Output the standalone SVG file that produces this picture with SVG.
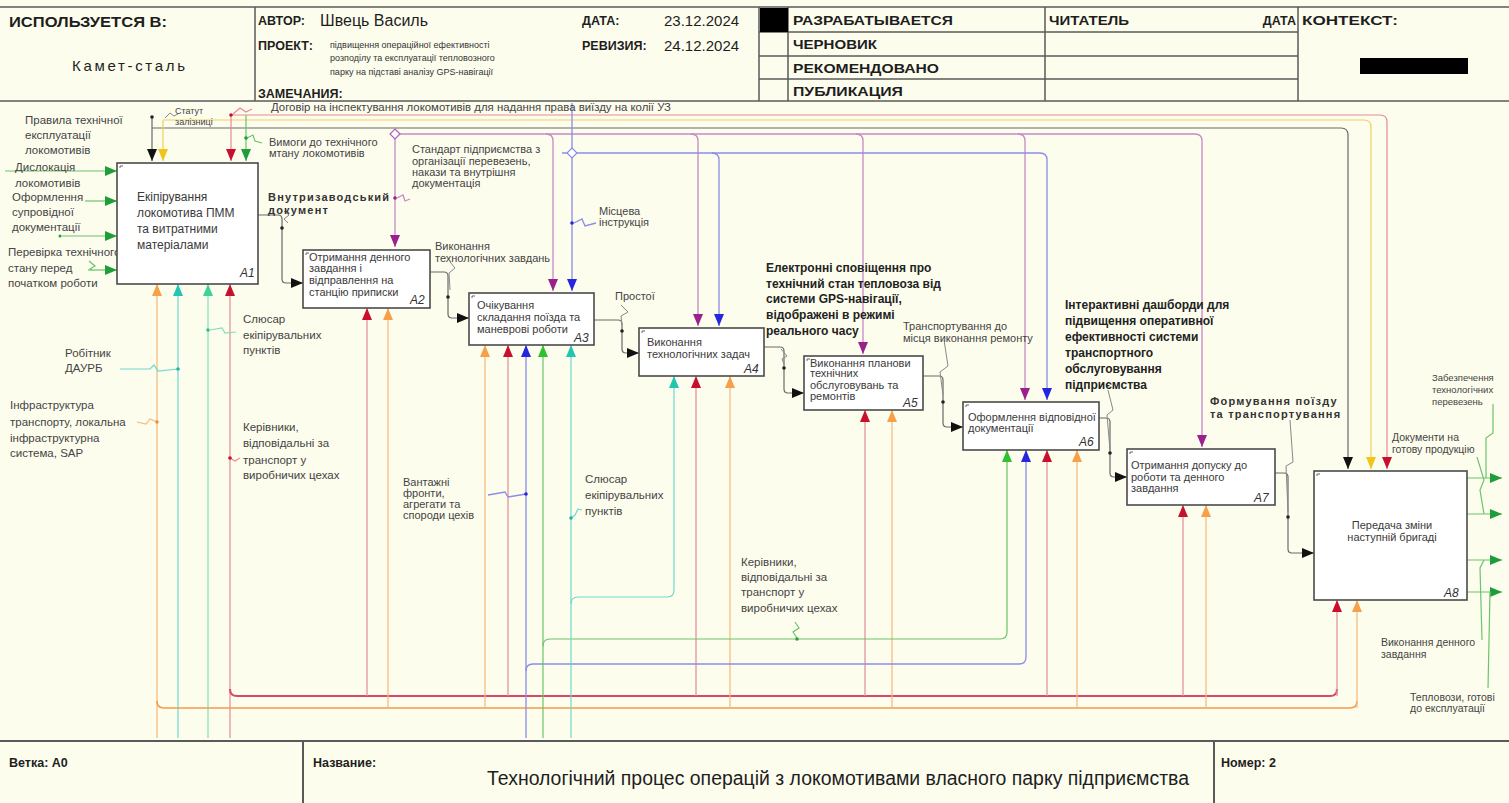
<svg xmlns="http://www.w3.org/2000/svg" width="1509" height="803" viewBox="0 0 1509 803">
<style>
.frame{fill:none;stroke:#5a5a5a;stroke-width:1.5}
.box{fill:#fff;stroke:#4a4a4a;stroke-width:1.6}
.tick{fill:none;stroke:#666;stroke-width:1}
.h{font-family:"Liberation Sans",Arial,sans-serif;font-size:13px;fill:#1e1e1e}
.hb{font-family:"Liberation Sans",Arial,sans-serif;font-size:12.5px;font-weight:bold;fill:#1e1e1e}
.hs{font-family:"Liberation Sans",Arial,sans-serif;font-size:9px;fill:#333}
.bt{font-family:"Liberation Sans",Arial,sans-serif;font-size:11px;fill:#3a3a3a}
.bt1{font-family:"Liberation Sans",Arial,sans-serif;font-size:12px;fill:#3a3a3a}
.num{font-family:"Liberation Sans",Arial,sans-serif;font-size:12px;fill:#333;font-style:italic}
.lb{font-family:"Liberation Sans",Arial,sans-serif;font-size:11.5px;fill:#444}
.s95{font-size:11px}
.s9{font-size:10.5px}
.s8{font-size:9px}
.lb11{font-family:"Liberation Sans",Arial,sans-serif;font-size:11.5px;fill:#444}
.bold{font-family:"Liberation Sans",Arial,sans-serif;font-size:12px;font-weight:bold;fill:#222}
.bsp{font-family:"Liberation Sans",Arial,sans-serif;font-size:11px;font-weight:bold;fill:#333;letter-spacing:1.2px}
.lk,.ly,.lr,.lrb,.lg,.lm,.lbl,.lo,.lob,.lc,.lt,.sq{fill:none}
.lk{stroke:#6a6a6a;stroke-width:1.2}
.ly{stroke:#f0d060;stroke-width:1.2}
.lr{stroke:#e38b93;stroke-width:1.2}
.lrb{stroke:#d9486a;stroke-width:2}
.lg{stroke:#6cc46c;stroke-width:1.2}
.lm{stroke:#c58ac8;stroke-width:1.3}
.lbl{stroke:#8c8cea;stroke-width:1.3}
.lo{stroke:#f5b87a;stroke-width:1.2}
.lob{stroke:#f39a4a;stroke-width:1.6}
.lc{stroke:#70d8cc;stroke-width:1.2}
.lt{stroke:#80e0b8;stroke-width:1.2}
.sq{stroke:#888;stroke-width:1}
</style>
<defs>
<marker id="ak" viewBox="0 0 12 10" refX="12" refY="5" markerWidth="12" markerHeight="10" markerUnits="userSpaceOnUse" orient="auto"><path d="M0,0 L12,5 L0,10 Z" fill="#111"/></marker>
<marker id="ay" viewBox="0 0 12 10" refX="12" refY="5" markerWidth="12" markerHeight="10" markerUnits="userSpaceOnUse" orient="auto"><path d="M0,0 L12,5 L0,10 Z" fill="#f0c419"/></marker>
<marker id="ar" viewBox="0 0 12 10" refX="12" refY="5" markerWidth="12" markerHeight="10" markerUnits="userSpaceOnUse" orient="auto"><path d="M0,0 L12,5 L0,10 Z" fill="#c8102e"/></marker>
<marker id="ag" viewBox="0 0 12 10" refX="12" refY="5" markerWidth="12" markerHeight="10" markerUnits="userSpaceOnUse" orient="auto"><path d="M0,0 L12,5 L0,10 Z" fill="#1e9e3a"/></marker>
<marker id="agl" viewBox="0 0 12 10" refX="12" refY="5" markerWidth="12" markerHeight="10" markerUnits="userSpaceOnUse" orient="auto"><path d="M0,0 L12,5 L0,10 Z" fill="#30c030"/></marker>
<marker id="am" viewBox="0 0 12 10" refX="12" refY="5" markerWidth="12" markerHeight="10" markerUnits="userSpaceOnUse" orient="auto"><path d="M0,0 L12,5 L0,10 Z" fill="#9c1f8e"/></marker>
<marker id="ab" viewBox="0 0 12 10" refX="12" refY="5" markerWidth="12" markerHeight="10" markerUnits="userSpaceOnUse" orient="auto"><path d="M0,0 L12,5 L0,10 Z" fill="#2626e0"/></marker>
<marker id="ao" viewBox="0 0 12 10" refX="12" refY="5" markerWidth="12" markerHeight="10" markerUnits="userSpaceOnUse" orient="auto"><path d="M0,0 L12,5 L0,10 Z" fill="#f7a04a"/></marker>
<marker id="ac" viewBox="0 0 12 10" refX="12" refY="5" markerWidth="12" markerHeight="10" markerUnits="userSpaceOnUse" orient="auto"><path d="M0,0 L12,5 L0,10 Z" fill="#22c6b0"/></marker>
<marker id="at" viewBox="0 0 12 10" refX="12" refY="5" markerWidth="12" markerHeight="10" markerUnits="userSpaceOnUse" orient="auto"><path d="M0,0 L12,5 L0,10 Z" fill="#3ad39a"/></marker>
</defs>
<rect x="0" y="0" width="1509" height="803" fill="#fdfdee"/>

<g id="header">
<path class="frame" d="M0,7 H1509 M0,101 H1509 M255,7 V101 M759,7 V101 M788,7 V101 M1045,7 V101 M1298,7 V101 M759,32 H1298 M759,56 H1298 M759,79 H1298"/>
<rect x="760" y="8" width="28" height="24" fill="#000"/>
<rect x="1360" y="58" width="108" height="16" fill="#000"/>
<text class="hb" x="9" y="27" style="font-size:14px" textLength="158" lengthAdjust="spacingAndGlyphs">ИСПОЛЬЗУЕТСЯ В:</text>
<text class="h" x="72" y="71" style="font-size:15px" textLength="113">Камет-сталь</text>
<text class="hb" x="258" y="25">АВТОР:</text>
<text class="h" x="320" y="26" style="font-size:16px">Швець Василь</text>
<text class="hb" x="258" y="50">ПРОЕКТ:</text>
<text class="hs" x="330" y="48">підвищення операційної ефективності</text>
<text class="hs" x="330" y="61">розподілу та експлуатації тепловозного</text>
<text class="hs" x="330" y="75">парку на підставі аналізу GPS-навігації</text>
<text class="hb" x="258" y="98">ЗАМЕЧАНИЯ:</text>
<text class="hb" x="582" y="25">ДАТА:</text>
<text class="h" x="664" y="26" style="font-size:15px">23.12.2024</text>
<text class="hb" x="582" y="50">РЕВИЗИЯ:</text>
<text class="h" x="664" y="51" style="font-size:15px">24.12.2024</text>
<text class="hb" x="793" y="25" textLength="160" lengthAdjust="spacingAndGlyphs">РАЗРАБАТЫВАЕТСЯ</text>
<text class="hb" x="793" y="49" textLength="84" lengthAdjust="spacingAndGlyphs">ЧЕРНОВИК</text>
<text class="hb" x="793" y="73" textLength="146" lengthAdjust="spacingAndGlyphs">РЕКОМЕНДОВАНО</text>
<text class="hb" x="793" y="96" textLength="110" lengthAdjust="spacingAndGlyphs">ПУБЛИКАЦИЯ</text>
<text class="hb" x="1049" y="25" textLength="80" lengthAdjust="spacingAndGlyphs">ЧИТАТЕЛЬ</text>
<text class="hb" x="1296" y="25" text-anchor="end">ДАТА</text>
<text class="hb" x="1302" y="25" textLength="96" lengthAdjust="spacingAndGlyphs">КОНТЕКСТ:</text>
</g>

<g id="footer">
<path class="frame" d="M0,741 H1509 M303,741 V803 M1214,741 V803" style="stroke-width:2"/>
<text class="hb" x="9" y="767">Ветка: А0</text>
<text class="hb" x="313" y="767">Название:</text>
<text class="h" x="487" y="785" style="font-size:20px" textLength="702" lengthAdjust="spacingAndGlyphs">Технологічний процес операцій з локомотивами власного парку підприємства</text>
<text class="hb" x="1221" y="767">Номер: 2</text>
</g>

<g id="connectors">
<path class="lk" d="M152,128 H1341 Q1348,128 1348,135 V469" marker-end="url(#ak)"/>
<path class="lk" d="M152,117 V161" marker-end="url(#ak)"/>
<path class="ly" d="M163,120 H1364 Q1371,120 1371,127 V469" marker-end="url(#ay)"/>
<path class="ly" d="M163,120 V161" marker-end="url(#ay)"/>
<path class="lr" d="M231,115 H1380 Q1387,115 1387,122 V469" marker-end="url(#ar)"/>
<path class="lr" d="M231,115 V161" marker-end="url(#ar)"/>
<path class="lg" d="M246,115 V161" marker-end="url(#ag)"/>
<path class="lm" d="M400,134 H1195 Q1202,134 1202,141 V447" marker-end="url(#am)"/>
<path class="lm" d="M395,139 V247" marker-end="url(#am)"/>
<path class="lm" d="M546,134 Q553,134 553,141 V291" marker-end="url(#am)"/>
<path class="lm" d="M691,134 Q698,134 698,141 V326" marker-end="url(#am)"/>
<path class="lm" d="M856,134 Q863,134 863,141 V354" marker-end="url(#am)"/>
<path class="lm" d="M1018,134 Q1025,134 1025,141 V400" marker-end="url(#am)"/>
<path d="M395,129 L400,134 L395,139 L390,134 Z" fill="#fff" stroke="#b060b8" stroke-width="1.2"/>
<path class="lbl" d="M572,103 V291" marker-end="url(#ab)"/>
<path class="lbl" d="M562,153 H1040 Q1047,153 1047,160 V400" marker-end="url(#ab)"/>
<path class="lbl" d="M712,153 Q719,153 719,160 V326" marker-end="url(#ab)"/>
<path d="M572,148 L577,153 L572,158 L567,153 Z" fill="#fff" stroke="#8c8cea" stroke-width="1.2"/>

<path class="lg" d="M5,171 H117" marker-end="url(#ag)"/>
<path class="lg" d="M85,201 H117" marker-end="url(#ag)"/>
<path class="lg" d="M62,236 H117" marker-end="url(#ag)"/>
<path class="lg" d="M88,270 H117" marker-end="url(#ag)"/>

<path class="lk" d="M258,215 H278 Q282,215 282,219 V279 Q282,283 286,283 H303" marker-end="url(#ak)"/>
<path class="lk" d="M430,272 H444 Q448,272 448,276 V314 Q448,318 452,318 H469" marker-end="url(#ak)"/>
<path class="lk" d="M594,320 H618 Q622,320 622,324 V349 Q622,353 626,353 H639" marker-end="url(#ak)"/>
<path class="lk" d="M764,347 H780 Q784,347 784,351 V389 Q784,393 788,393 H804" marker-end="url(#ak)"/>
<path class="lk" d="M923,376 H939 Q943,376 943,380 V423 Q943,427 947,427 H963" marker-end="url(#ak)"/>
<path class="lk" d="M1099,418 H1106 Q1110,418 1110,422 V473 Q1110,477 1114,477 H1127" marker-end="url(#ak)"/>
<path class="lk" d="M1275,473 H1284 Q1288,473 1288,477 V549 Q1288,553 1292,553 H1314" marker-end="url(#ak)"/>

<path class="lg" d="M1467,478 H1502" marker-end="url(#ag)"/>
<path class="lg" d="M1467,514 H1502" marker-end="url(#ag)"/>
<path class="lg" d="M1467,560 H1502" marker-end="url(#ag)"/>
<path class="lg" d="M1467,592 H1502" marker-end="url(#ag)"/>

<path class="lo" d="M157,738 V284" marker-end="url(#ao)"/>
<path class="lc" d="M178,738 V284" marker-end="url(#ac)"/>
<path class="lt" d="M208,738 V284" marker-end="url(#at)"/>
<path class="lr" d="M230,738 V284" marker-end="url(#ar)"/>
<path class="lrb" d="M230,689 Q230,696 237,696 H1330 Q1337,696 1337,689"/>
<path class="lob" d="M157,701 Q157,708 164,708 H1350 Q1357,708 1357,701"/>
<path class="lr" d="M367,696 V308" marker-end="url(#ar)"/>
<path class="lr" d="M508,696 V345" marker-end="url(#ar)"/>
<path class="lr" d="M696,696 V376" marker-end="url(#ar)"/>
<path class="lr" d="M865,696 V410" marker-end="url(#ar)"/>
<path class="lr" d="M1047,696 V450" marker-end="url(#ar)"/>
<path class="lr" d="M1183,696 V505" marker-end="url(#ar)"/>
<path class="lr" d="M1337,696 V600" marker-end="url(#ar)"/>
<path class="lo" d="M388,708 V308" marker-end="url(#ao)"/>
<path class="lo" d="M485,708 V345" marker-end="url(#ao)"/>
<path class="lo" d="M730,708 V376" marker-end="url(#ao)"/>
<path class="lo" d="M892,708 V410" marker-end="url(#ao)"/>
<path class="lo" d="M1077,708 V450" marker-end="url(#ao)"/>
<path class="lo" d="M1206,708 V505" marker-end="url(#ao)"/>
<path class="lo" d="M1357,708 V600" marker-end="url(#ao)"/>
<path class="lbl" d="M526,738 V345" marker-end="url(#ab)"/>
<path class="lbl" d="M526,671 Q526,664 533,664 H1019 Q1026,664 1026,657 V450" marker-end="url(#ab)"/>
<path class="lg" d="M543,738 V345" marker-end="url(#agl)"/>
<path class="lg" d="M543,646 Q543,639 550,639 H1000 Q1007,639 1007,632 V450" marker-end="url(#agl)"/>
<path class="lc" d="M571,738 V345" marker-end="url(#ac)"/>
<path class="lc" d="M571,604 Q571,597 578,597 H667 Q674,597 674,590 V376" marker-end="url(#ac)"/>

<path class="sq" d="M165,118 L170,113 L174,116 L178,114"/>
<path class="lr" d="M233,114 L240,108 L246,112 L252,109"/>
<path class="lg" d="M247,138 L253,135 L255,141 L262,143"/>
<path class="lm" d="M397,198 L403,195 L405,201 L410,199"/>
<path class="lbl" d="M574,223 L582,219 L585,226 L596,223"/>
<path class="sq" d="M284,211 L289,215 L284,219 L288,223"/>
<path class="sq" d="M450,262 L455,268 L449,273 L450,290"/>
<path class="sq" d="M621,305 L628,312 L621,316 L622,325"/>
<path class="sq" d="M781,349 L787,356 L782,359 L784,364"/>
<path class="sq" d="M944,340 L948,366 L940,372 L943,395"/>
<path class="sq" d="M1108,390 L1113,410 L1107,415 L1110,450"/>
<path class="sq" d="M1290,420 L1293,462 L1286,466 L1288,512"/>
<path class="lt" d="M210,330 L222,328 L225,333 L236,332"/>
<path class="lc" d="M120,369 L150,369 L154,365 L158,371 L178,369"/>
<path class="lo" d="M137,422 L146,424 L150,419 L157,422"/>
<path class="lr" d="M230,458 L235,461 L240,458"/>
<path class="lbl" d="M488,495 L505,492 L508,497 L526,494"/>
<path class="lc" d="M571,518 L575,515 L578,509 L582,510"/>
<path class="lg" d="M797,638 L793,632 L799,628 L795,622"/>
<path class="lg" d="M89,261 L95,266 L90,269 L92,270"/>
<path class="lg" d="M1493,404 V433 L1486,438 V478"/>
<path class="lg" d="M1477,457 L1484,480 L1480,490 L1484,514"/>
<path class="lg" d="M1482,640 L1480,568 L1484,560"/>
<path class="lg" d="M1488,688 L1490,592"/>
<g>
<circle cx="152" cy="117" r="1.8" fill="#222"/>
<circle cx="231" cy="115" r="1.8" fill="#c8102e"/>
<circle cx="246" cy="138" r="1.8" fill="#1e9e3a"/>
<circle cx="395" cy="198" r="1.8" fill="#9c1f8e"/>
<circle cx="572" cy="223" r="1.8" fill="#2626e0"/>
<circle cx="282" cy="228" r="1.8" fill="#222"/>
<circle cx="448" cy="297" r="1.8" fill="#222"/>
<circle cx="622" cy="331" r="1.8" fill="#222"/>
<circle cx="784" cy="368" r="1.8" fill="#222"/>
<circle cx="943" cy="402" r="1.8" fill="#222"/>
<circle cx="1110" cy="453" r="1.8" fill="#222"/>
<circle cx="1288" cy="517" r="1.8" fill="#222"/>
<circle cx="208" cy="330" r="1.8" fill="#30c090"/>
<circle cx="178" cy="369" r="1.8" fill="#22b6a0"/>
<circle cx="157" cy="422" r="1.8" fill="#f09040"/>
<circle cx="230" cy="458" r="1.8" fill="#c8102e"/>
<circle cx="526" cy="494" r="1.8" fill="#2626e0"/>
<circle cx="571" cy="518" r="1.8" fill="#22b6a0"/>
<circle cx="797" cy="639" r="1.8" fill="#30a030"/>
<circle cx="60" cy="236" r="1.5" fill="#1e9e3a"/>
</g>
</g>

<g id="labels">
<text class="lb" x="25" y="124">Правила технічної</text>
<text class="lb" x="25" y="139">експлуатації</text>
<text class="lb" x="25" y="154">локомотивів</text>
<text class="lb" x="15" y="171">Дислокація</text>
<text class="lb" x="15" y="187">локомотивів</text>
<text class="lb" x="12" y="201">Оформлення</text>
<text class="lb" x="12" y="216">супровідної</text>
<text class="lb" x="12" y="231">документації</text>
<text class="lb" x="8" y="256">Перевірка технічного</text>
<text class="lb" x="8" y="272">стану перед</text>
<text class="lb" x="8" y="287">початком  роботи</text>
<text class="lb s8" x="175" y="114">Статут</text>
<text class="lb s8" x="175" y="125">залізниці</text>
<text class="lb s95" x="271" y="111" textLength="400" lengthAdjust="spacingAndGlyphs">Договір на інспектування локомотивів для надання права виїзду на колії УЗ</text>
<text class="lb s95" x="269" y="146">Вимоги до технічного</text>
<text class="lb s95" x="269" y="157">мтану локомотивів</text>
<text class="bsp" x="268" y="201">Внутризаводський</text>
<text class="bsp" x="268" y="214">документ</text>
<text class="lb s95" x="412" y="153">Стандарт підприємства з</text>
<text class="lb s95" x="412" y="165">організації перевезень,</text>
<text class="lb s95" x="412" y="176">накази та внутрішня</text>
<text class="lb s95" x="412" y="187">документація</text>
<text class="lb s95" x="599" y="215">Місцева</text>
<text class="lb s95" x="599" y="226">інструкція</text>
<text class="lb s95" x="435" y="250">Виконання</text>
<text class="lb s95" x="435" y="262">технологічних завдань</text>
<text class="lb s95" x="615" y="300">Простої</text>
<text class="bold" x="766" y="272">Електронні сповіщення про</text>
<text class="bold" x="766" y="288">технічний стан тепловоза від</text>
<text class="bold" x="766" y="303">системи GPS-навігації,</text>
<text class="bold" x="766" y="319">відображені в режимі</text>
<text class="bold" x="766" y="335">реального часу</text>
<text class="lb s95" x="903" y="330">Транспортування до</text>
<text class="lb s95" x="903" y="342">місця виконання ремонту</text>
<text class="bold" x="1065" y="309">Інтерактивні дашборди для</text>
<text class="bold" x="1065" y="325">підвищення оперативної</text>
<text class="bold" x="1065" y="341">ефективності системи</text>
<text class="bold" x="1065" y="357">транспортного</text>
<text class="bold" x="1065" y="373">обслуговування</text>
<text class="bold" x="1065" y="389">підприємства</text>
<text class="bsp" x="1210" y="405">Формування поїзду</text>
<text class="bsp" x="1210" y="418">та транспортування</text>
<text class="lb" x="1432" y="381" style="font-size:9.5px">Забезпечення</text>
<text class="lb" x="1432" y="393" style="font-size:9.5px">технологічних</text>
<text class="lb" x="1432" y="405" style="font-size:9.5px">перевезень</text>
<text class="lb s9" x="1392" y="441">Документи на</text>
<text class="lb s9" x="1392" y="453">готову продукцію</text>
<text class="lb s9" x="1381" y="646">Виконання денного</text>
<text class="lb s9" x="1381" y="658">завдання</text>
<text class="lb s9" x="1410" y="701">Тепловози, готові</text>
<text class="lb s9" x="1410" y="712">до експлуатації</text>
<text class="lb11" x="243" y="323">Слюсар</text>
<text class="lb11" x="243" y="339">екіпірувальних</text>
<text class="lb11" x="243" y="354">пунктів</text>
<text class="lb11" x="65" y="357">Робітник</text>
<text class="lb11" x="65" y="372">ДАУРБ</text>
<text class="lb11" x="10" y="409">Інфраструктура</text>
<text class="lb11" x="10" y="426">транспорту, локальна</text>
<text class="lb11" x="10" y="442">інфраструктурна</text>
<text class="lb11" x="10" y="457">система, SAP</text>
<text class="lb11" x="243" y="431">Керівники,</text>
<text class="lb11" x="243" y="447">відповідальні за</text>
<text class="lb11" x="243" y="464">транспорт у</text>
<text class="lb11" x="243" y="479">виробничих цехах</text>
<text class="lb s95" x="403" y="486">Вантажні</text>
<text class="lb s95" x="403" y="497">фронти,</text>
<text class="lb s95" x="403" y="508">агрегати та</text>
<text class="lb s95" x="403" y="519">спороди цехів</text>
<text class="lb11" x="585" y="483">Слюсар</text>
<text class="lb11" x="585" y="499">екіпірувальних</text>
<text class="lb11" x="585" y="515">пунктів</text>
<text class="lb11" x="741" y="566">Керівники,</text>
<text class="lb11" x="741" y="581">відповідальні за</text>
<text class="lb11" x="741" y="596">транспорт у</text>
<text class="lb11" x="741" y="612">виробничих цехах</text>
</g>

<g id="A1">
<rect class="box" x="117" y="163" width="141" height="121"/>
<path class="tick" d="M120,168 V166 H123"/>
<text class="bt1" x="137" y="201">Екіпірування</text>
<text class="bt1" x="137" y="217">локомотива ПММ</text>
<text class="bt1" x="137" y="233">та витратними</text>
<text class="bt1" x="137" y="249">матеріалами</text>
<text class="num" x="240" y="277">A1</text>
</g>
<g id="A2">
<rect class="box" x="303" y="250" width="127" height="58"/>
<path class="tick" d="M306,255 V253 H309"/>
<text class="bt" x="309" y="261">Отримання денного</text>
<text class="bt" x="309" y="272">завдання і</text>
<text class="bt" x="309" y="284">відправлення на</text>
<text class="bt" x="309" y="296">станцію приписки</text>
<text class="num" x="410" y="304">A2</text>
</g>
<g id="A3">
<rect class="box" x="469" y="293" width="125" height="52"/>
<path class="tick" d="M472,298 V296 H475"/>
<text class="bt" x="477" y="309">Очікування</text>
<text class="bt" x="477" y="321">складання поїзда та</text>
<text class="bt" x="477" y="333">маневрові роботи</text>
<text class="num" x="574" y="342">A3</text>
</g>
<g id="A4">
<rect class="box" x="639" y="328" width="125" height="48"/>
<path class="tick" d="M642,333 V331 H645"/>
<text class="bt" x="647" y="346">Виконання</text>
<text class="bt" x="647" y="358">технологічних задач</text>
<text class="num" x="744" y="373">A4</text>
</g>
<g id="A5">
<rect class="box" x="804" y="356" width="119" height="54"/>
<path class="tick" d="M807,361 V359 H810"/>
<text class="bt" x="810" y="367">Виконання планови</text>
<text class="bt" x="810" y="377">технічних</text>
<text class="bt" x="810" y="389">обслуговувань та</text>
<text class="bt" x="810" y="400">ремонтів</text>
<text class="num" x="903" y="407">A5</text>
</g>
<g id="A6">
<rect class="box" x="963" y="402" width="136" height="48"/>
<path class="tick" d="M966,407 V405 H969"/>
<text class="bt" x="968" y="421">Оформлення відповідної</text>
<text class="bt" x="968" y="432">документації</text>
<text class="num" x="1079" y="446">A6</text>
</g>
<g id="A7">
<rect class="box" x="1127" y="449" width="148" height="56"/>
<path class="tick" d="M1130,454 V452 H1133"/>
<text class="bt" x="1131" y="469">Отримання допуску до</text>
<text class="bt" x="1131" y="481">роботи та денного</text>
<text class="bt" x="1131" y="492">завдання</text>
<text class="num" x="1254" y="502">A7</text>
</g>
<g id="A8">
<rect class="box" x="1314" y="471" width="153" height="129"/>
<path class="tick" d="M1317,476 V474 H1320"/>
<text class="bt" x="1392" y="529" text-anchor="middle">Передача зміни</text>
<text class="bt" x="1392" y="541" text-anchor="middle">наступній бригаді</text>
<text class="num" x="1444" y="597">A8</text>
</g>
</svg>
